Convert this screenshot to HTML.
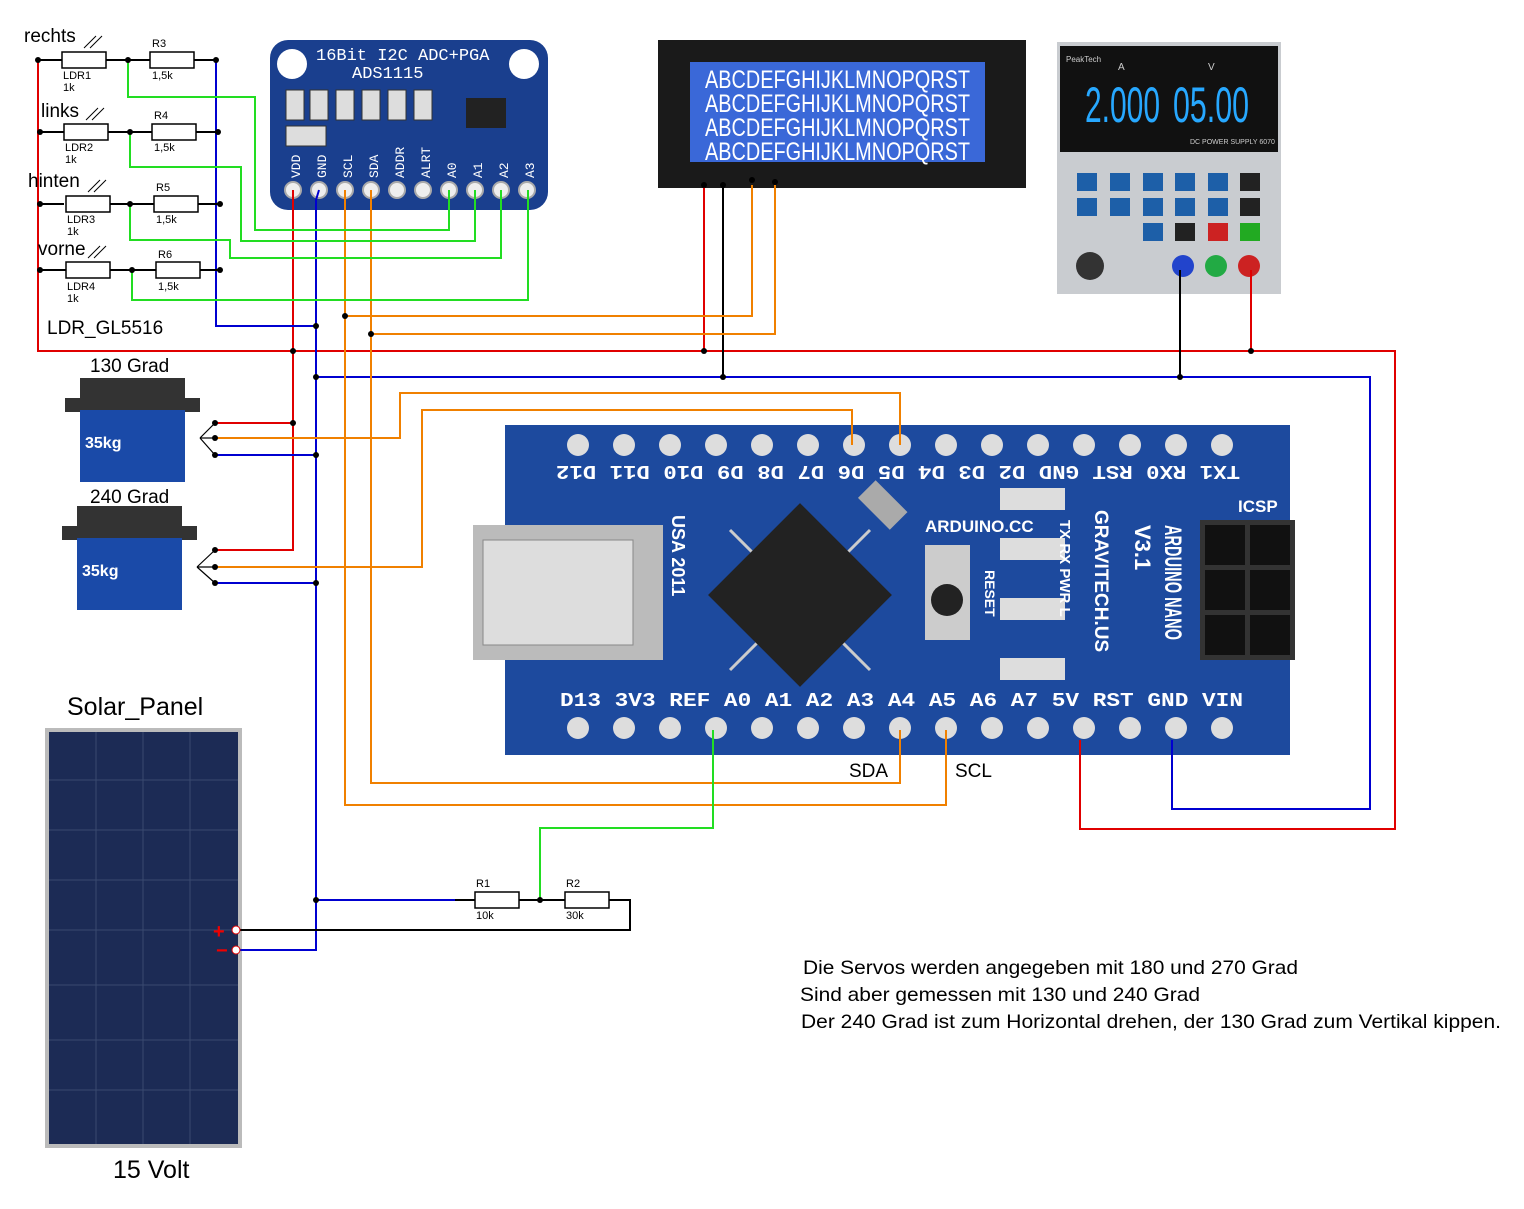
<!DOCTYPE html>
<html><head><meta charset="utf-8"><style>
html,body{margin:0;padding:0;background:#fff}
svg{display:block;font-family:"Liberation Sans",sans-serif}
.w{fill:none;stroke-width:2}
</style></head><body>
<svg width="1524" height="1209" viewBox="0 0 1524 1209" xmlns="http://www.w3.org/2000/svg">
<rect width="1524" height="1209" fill="#fff"/>

<!-- ADS1115 board -->
<rect x="270" y="40" width="278" height="170" rx="18" fill="#1a3f8e"/>
<circle cx="292" cy="64" r="15" fill="#fff"/><circle cx="524" cy="64" r="15" fill="#fff"/>
<text x="316" y="60" fill="#fff" font-size="17" font-family="Liberation Mono">16Bit I2C ADC+PGA</text>
<text x="352" y="78" fill="#fff" font-size="17" font-family="Liberation Mono">ADS1115</text>
<g fill="#ddd" stroke="#333"><rect x="286" y="90" width="18" height="30"/><rect x="310" y="90" width="18" height="30"/><rect x="336" y="90" width="18" height="30"/><rect x="362" y="90" width="18" height="30"/><rect x="388" y="90" width="18" height="30"/><rect x="414" y="90" width="18" height="30"/><rect x="286" y="126" width="40" height="20"/></g>
<rect x="466" y="98" width="40" height="30" fill="#222"/>
<g fill="#fff" font-size="13" font-family="Liberation Mono">
<text transform="translate(300,178) rotate(-90)">VDD</text><text transform="translate(326,178) rotate(-90)">GND</text><text transform="translate(352,178) rotate(-90)">SCL</text><text transform="translate(378,178) rotate(-90)">SDA</text><text transform="translate(404,178) rotate(-90)">ADDR</text><text transform="translate(430,178) rotate(-90)">ALRT</text><text transform="translate(456,178) rotate(-90)">A0</text><text transform="translate(482,178) rotate(-90)">A1</text><text transform="translate(508,178) rotate(-90)">A2</text><text transform="translate(534,178) rotate(-90)">A3</text></g>
<g fill="#eee" stroke="#aaa" stroke-width="2"><circle cx="293" cy="190" r="8"/><circle cx="319" cy="190" r="8"/><circle cx="345" cy="190" r="8"/><circle cx="371" cy="190" r="8"/><circle cx="397" cy="190" r="8"/><circle cx="423" cy="190" r="8"/><circle cx="449" cy="190" r="8"/><circle cx="475" cy="190" r="8"/><circle cx="501" cy="190" r="8"/><circle cx="527" cy="190" r="8"/></g>

<!-- LCD -->
<rect x="658" y="40" width="368" height="148" fill="#1a1a1a"/>
<rect x="690" y="62" width="295" height="100" fill="#3a68d8"/>
<g fill="#fff" font-size="25"><text x="705" y="88" textLength="265" lengthAdjust="spacingAndGlyphs">ABCDEFGHIJKLMNOPQRST</text><text x="705" y="112" textLength="265" lengthAdjust="spacingAndGlyphs">ABCDEFGHIJKLMNOPQRST</text><text x="705" y="136" textLength="265" lengthAdjust="spacingAndGlyphs">ABCDEFGHIJKLMNOPQRST</text><text x="705" y="160" textLength="265" lengthAdjust="spacingAndGlyphs">ABCDEFGHIJKLMNOPQRST</text></g>

<!-- Power supply -->
<rect x="1057" y="42" width="224" height="252" fill="#c9ccd0"/>
<rect x="1060" y="46" width="218" height="106" fill="#111"/>
<text x="1066" y="62" fill="#ccc" font-size="8">PeakTech</text>
<text x="1118" y="70" fill="#ccc" font-size="10">A</text><text x="1208" y="70" fill="#ccc" font-size="10">V</text>
<text x="1085" y="122" fill="#27a8ff" font-size="50" textLength="75" lengthAdjust="spacingAndGlyphs">2.000</text>
<text x="1173" y="122" fill="#27a8ff" font-size="50" textLength="76" lengthAdjust="spacingAndGlyphs">05.00</text>
<text x="1190" y="144" fill="#ccc" font-size="7">DC POWER SUPPLY 6070</text>
<g fill="#1d5fa8"><rect x="1077" y="173" width="20" height="18"/><rect x="1110" y="173" width="20" height="18"/><rect x="1143" y="173" width="20" height="18"/><rect x="1175" y="173" width="20" height="18"/><rect x="1208" y="173" width="20" height="18"/><rect x="1077" y="198" width="20" height="18"/><rect x="1110" y="198" width="20" height="18"/><rect x="1143" y="198" width="20" height="18"/><rect x="1175" y="198" width="20" height="18"/><rect x="1208" y="198" width="20" height="18"/><rect x="1143" y="223" width="20" height="18"/></g>
<rect x="1240" y="173" width="20" height="18" fill="#222"/><rect x="1240" y="198" width="20" height="18" fill="#222"/><rect x="1175" y="223" width="20" height="18" fill="#222"/><rect x="1208" y="223" width="20" height="18" fill="#c22"/><rect x="1240" y="223" width="20" height="18" fill="#2a2"/>
<circle cx="1090" cy="266" r="14" fill="#333"/>
<circle cx="1183" cy="266" r="11" fill="#2244cc"/><circle cx="1216" cy="266" r="11" fill="#22aa44"/><circle cx="1249" cy="266" r="11" fill="#cc2222"/>

<!-- Arduino -->
<rect x="505" y="425" width="785" height="330" fill="#1d4a9e"/>
<rect x="473" y="525" width="190" height="135" fill="#bbb"/>
<rect x="483" y="540" width="150" height="105" fill="#ddd" stroke="#888"/>
<g stroke="#ccc" stroke-width="3"><line x1="730" y1="530" x2="870" y2="670"/><line x1="870" y1="530" x2="730" y2="670"/></g>
<rect x="735" y="530" width="130" height="130" fill="#222" transform="rotate(45 800 595)"/>
<rect x="860" y="492" width="45" height="25" fill="#aaa" transform="rotate(45 882 505)"/>
<rect x="925" y="545" width="45" height="95" fill="#ccc"/><circle cx="947" cy="600" r="16" fill="#222"/>
<g fill="#ddd"><rect x="1000" y="488" width="65" height="22"/><rect x="1000" y="538" width="65" height="22"/><rect x="1000" y="598" width="65" height="22"/><rect x="1000" y="658" width="65" height="22"/></g>
<rect x="1200" y="520" width="95" height="140" fill="#333"/>
<g fill="#111"><rect x="1205" y="525" width="40" height="40"/><rect x="1250" y="525" width="40" height="40"/><rect x="1205" y="570" width="40" height="40"/><rect x="1250" y="570" width="40" height="40"/><rect x="1205" y="615" width="40" height="40"/><rect x="1250" y="615" width="40" height="40"/></g>
<g fill="#ddd"><circle cx="578" cy="445" r="11"/><circle cx="624" cy="445" r="11"/><circle cx="670" cy="445" r="11"/><circle cx="716" cy="445" r="11"/><circle cx="762" cy="445" r="11"/><circle cx="808" cy="445" r="11"/><circle cx="854" cy="445" r="11"/><circle cx="900" cy="445" r="11"/><circle cx="946" cy="445" r="11"/><circle cx="992" cy="445" r="11"/><circle cx="1038" cy="445" r="11"/><circle cx="1084" cy="445" r="11"/><circle cx="1130" cy="445" r="11"/><circle cx="1176" cy="445" r="11"/><circle cx="1222" cy="445" r="11"/>
<circle cx="578" cy="728" r="11"/><circle cx="624" cy="728" r="11"/><circle cx="670" cy="728" r="11"/><circle cx="716" cy="728" r="11"/><circle cx="762" cy="728" r="11"/><circle cx="808" cy="728" r="11"/><circle cx="854" cy="728" r="11"/><circle cx="900" cy="728" r="11"/><circle cx="946" cy="728" r="11"/><circle cx="992" cy="728" r="11"/><circle cx="1038" cy="728" r="11"/><circle cx="1084" cy="728" r="11"/><circle cx="1130" cy="728" r="11"/><circle cx="1176" cy="728" r="11"/><circle cx="1222" cy="728" r="11"/></g>
<text x="560" y="706" fill="#fff" font-size="19" font-weight="bold" font-family="Liberation Mono" textLength="683" lengthAdjust="spacingAndGlyphs">D13 3V3 REF A0  A1  A2  A3  A4  A5  A6  A7  5V  RST GND VIN</text>
<text transform="translate(1240,466) rotate(180)" fill="#fff" font-size="19" font-weight="bold" font-family="Liberation Mono" textLength="684" lengthAdjust="spacingAndGlyphs">TX1 RX0 RST GND D2  D3  D4  D5  D6  D7  D8  D9  D10 D11 D12</text>
<text x="925" y="532" fill="#fff" font-size="17" font-weight="bold">ARDUINO.CC</text>
<text transform="translate(1165,525) rotate(90)" fill="#fff" font-size="24" font-weight="bold" textLength="115" lengthAdjust="spacingAndGlyphs">ARDUINO NANO</text>
<text transform="translate(1135,525) rotate(90)" fill="#fff" font-size="22" font-weight="bold">V3.1</text>
<text transform="translate(1095,510) rotate(90)" fill="#fff" font-size="19" font-weight="bold">GRAVITECH.US</text>
<text transform="translate(1060,520) rotate(90)" fill="#fff" font-size="15" font-weight="bold">TX  RX  PWR  L</text>
<text transform="translate(985,570) rotate(90)" fill="#fff" font-size="14" font-weight="bold">RESET</text>
<text transform="translate(672,515) rotate(90)" fill="#fff" font-size="18" font-weight="bold">USA   2011</text>
<text x="1238" y="512" fill="#fff" font-size="17" font-weight="bold">ICSP</text>

<!-- servos -->
<g><rect x="65" y="398" width="135" height="14" fill="#333"/><rect x="80" y="378" width="105" height="22" fill="#333"/><rect x="80" y="410" width="105" height="72" fill="#1a4aa8"/><text x="85" y="448" fill="#fff" font-size="16" font-weight="bold">35kg</text></g>
<g><rect x="62" y="526" width="135" height="14" fill="#333"/><rect x="77" y="506" width="105" height="22" fill="#333"/><rect x="77" y="538" width="105" height="72" fill="#1a4aa8"/><text x="82" y="576" fill="#fff" font-size="16" font-weight="bold">35kg</text></g>

<!-- solar panel -->
<rect x="45" y="728" width="197" height="420" fill="#bbb"/>
<rect x="49" y="732" width="189" height="412" fill="#1c2b55"/>
<g stroke="#3a4a70" stroke-width="1"><line x1="96" y1="732" x2="96" y2="1144"/><line x1="143" y1="732" x2="143" y2="1144"/><line x1="190" y1="732" x2="190" y2="1144"/><line x1="49" y1="780" x2="238" y2="780"/><line x1="49" y1="830" x2="238" y2="830"/><line x1="49" y1="880" x2="238" y2="880"/><line x1="49" y1="930" x2="238" y2="930"/><line x1="49" y1="985" x2="238" y2="985"/><line x1="49" y1="1040" x2="238" y2="1040"/><line x1="49" y1="1090" x2="238" y2="1090"/></g>

<!-- wires -->
<g class="w" stroke="#e00000">
<polyline points="38,60 38,351 1395,351 1395,829 1080,829 1080,740"/>
<polyline points="293,190 293,550 215,550"/><line x1="215" y1="423" x2="293" y2="423"/>
<line x1="704" y1="185" x2="704" y2="351"/><line x1="1251" y1="270" x2="1251" y2="351"/>
</g>
<g class="w" stroke="#0000d0">
<polyline points="319,190 316,200 316,950 240,950"/>
<polyline points="316,377 1370,377 1370,809 1172,809 1172,740"/>
<polyline points="216,60 216,326 316,326"/>
<line x1="215" y1="455" x2="316" y2="455"/><line x1="215" y1="583" x2="316" y2="583"/>
<line x1="316" y1="900" x2="455" y2="900"/>
</g>
<g class="w" stroke="#000">
<polyline points="723,185 723,377"/><polyline points="1180,270 1180,377"/>
<polyline points="240,930 630,930 630,900 605,900"/>
<line x1="40" y1="60" x2="62" y2="60"/><line x1="40" y1="132" x2="64" y2="132"/><line x1="40" y1="204" x2="64" y2="204"/><line x1="40" y1="270" x2="66" y2="270"/>
<line x1="106" y1="60" x2="150" y2="60"/><line x1="194" y1="60" x2="216" y2="60"/>
<line x1="108" y1="132" x2="152" y2="132"/><line x1="196" y1="132" x2="218" y2="132"/>
<line x1="110" y1="204" x2="154" y2="204"/><line x1="198" y1="204" x2="220" y2="204"/>
<line x1="110" y1="270" x2="156" y2="270"/><line x1="198" y1="270" x2="220" y2="270"/>
<line x1="455" y1="900" x2="475" y2="900"/><line x1="519" y1="900" x2="565" y2="900"/>
</g>
<g class="w" stroke="#f08000">
<polyline points="345,190 345,805 946,805 946,730"/>
<polyline points="371,190 371,783 900,783 900,730"/>
<polyline points="345,316 752,316 752,185"/><polyline points="371,334 775,334 775,185"/>
<polyline points="215,438 400,438 400,393 900,393 900,445"/>
<polyline points="215,567 422,567 422,410 852,410 852,445"/>
</g>
<g class="w" stroke="#22dd22">
<polyline points="128,60 128,97 255,97 255,230 449,230 449,190"/>
<polyline points="130,132 130,167 241,167 241,241 475,241 475,190"/>
<polyline points="130,204 130,240 230,240 230,258 501,258 501,190"/>
<polyline points="132,270 132,300 528,300 528,190"/>
<polyline points="713,730 713,828 540,828 540,900"/>
</g>
<!-- resistors -->
<g fill="#fff" stroke="#000" stroke-width="1.5">
<rect x="62" y="52" width="44" height="16"/><rect x="150" y="52" width="44" height="16"/>
<rect x="64" y="124" width="44" height="16"/><rect x="152" y="124" width="44" height="16"/>
<rect x="66" y="196" width="44" height="16"/><rect x="154" y="196" width="44" height="16"/>
<rect x="66" y="262" width="44" height="16"/><rect x="156" y="262" width="44" height="16"/>
<rect x="475" y="892" width="44" height="16"/><rect x="565" y="892" width="44" height="16"/>
</g>
<g stroke="#000" stroke-width="1"><line x1="84" y1="48" x2="96" y2="36"/><line x1="90" y1="48" x2="102" y2="36"/><line x1="86" y1="120" x2="98" y2="108"/><line x1="92" y1="120" x2="104" y2="108"/><line x1="88" y1="192" x2="100" y2="180"/><line x1="94" y1="192" x2="106" y2="180"/><line x1="88" y1="258" x2="100" y2="246"/><line x1="94" y1="258" x2="106" y2="246"/></g>
<g fill="#000"><circle cx="38" cy="60" r="3"/><circle cx="128" cy="60" r="3"/><circle cx="216" cy="60" r="3"/><circle cx="40" cy="132" r="3"/><circle cx="130" cy="132" r="3"/><circle cx="218" cy="132" r="3"/><circle cx="40" cy="204" r="3"/><circle cx="130" cy="204" r="3"/><circle cx="220" cy="204" r="3"/><circle cx="40" cy="270" r="3"/><circle cx="132" cy="270" r="3"/><circle cx="220" cy="270" r="3"/>
<circle cx="316" cy="326" r="3"/><circle cx="345" cy="316" r="3"/><circle cx="371" cy="334" r="3"/><circle cx="293" cy="351" r="3"/><circle cx="704" cy="351" r="3"/><circle cx="1251" cy="351" r="3"/><circle cx="316" cy="377" r="3"/><circle cx="723" cy="377" r="3"/><circle cx="1180" cy="377" r="3"/>
<circle cx="293" cy="423" r="3"/><circle cx="316" cy="455" r="3"/><circle cx="215" cy="423" r="3"/><circle cx="215" cy="438" r="3"/><circle cx="215" cy="455" r="3"/><circle cx="215" cy="550" r="3"/><circle cx="215" cy="567" r="3"/><circle cx="215" cy="583" r="3"/><circle cx="316" cy="583" r="3"/>
<circle cx="316" cy="900" r="3"/><circle cx="540" cy="900" r="3"/><circle cx="704" cy="185" r="3"/><circle cx="723" cy="185" r="3"/><circle cx="752" cy="180" r="3"/><circle cx="775" cy="182" r="3"/></g>
<g stroke="#000" stroke-width="1.2"><line x1="200" y1="438" x2="215" y2="423"/><line x1="200" y1="438" x2="215" y2="438"/><line x1="200" y1="438" x2="215" y2="455"/><line x1="197" y1="567" x2="215" y2="550"/><line x1="197" y1="567" x2="215" y2="567"/><line x1="197" y1="567" x2="215" y2="583"/></g>
<circle cx="236" cy="930" r="4" fill="#fff" stroke="#d00"/><circle cx="236" cy="950" r="4" fill="#fff" stroke="#d00"/>
<text x="213" y="938" fill="#e00" font-size="20" font-weight="bold">+</text><text x="216" y="957" fill="#e00" font-size="20" font-weight="bold">−</text>

<!-- labels -->
<g font-size="19" fill="#000"><text x="24" y="42">rechts</text><text x="41" y="117">links</text><text x="28" y="187">hinten</text><text x="38" y="255">vorne</text><text x="47" y="334">LDR_GL5516</text><text x="90" y="372">130 Grad</text><text x="90" y="503">240 Grad</text><text x="849" y="777">SDA</text><text x="955" y="777">SCL</text></g>
<g font-size="11" fill="#000"><text x="63" y="79">LDR1</text><text x="63" y="91">1k</text><text x="152" y="47">R3</text><text x="152" y="79">1,5k</text>
<text x="65" y="151">LDR2</text><text x="65" y="163">1k</text><text x="154" y="119">R4</text><text x="154" y="151">1,5k</text>
<text x="67" y="223">LDR3</text><text x="67" y="235">1k</text><text x="156" y="191">R5</text><text x="156" y="223">1,5k</text>
<text x="67" y="290">LDR4</text><text x="67" y="302">1k</text><text x="158" y="258">R6</text><text x="158" y="290">1,5k</text>
<text x="476" y="887">R1</text><text x="476" y="919">10k</text><text x="566" y="887">R2</text><text x="566" y="919">30k</text></g>
<text x="67" y="715" font-size="25">Solar_Panel</text>
<text x="113" y="1178" font-size="25">15 Volt</text>
<g font-size="19.5"><text x="803" y="974" textLength="495" lengthAdjust="spacingAndGlyphs">Die Servos werden angegeben mit 180 und 270 Grad</text><text x="800" y="1001" textLength="400" lengthAdjust="spacingAndGlyphs">Sind aber gemessen mit 130 und 240 Grad</text><text x="801" y="1028" textLength="700" lengthAdjust="spacingAndGlyphs">Der 240 Grad ist zum Horizontal drehen, der 130 Grad zum Vertikal kippen.</text></g>
</svg>
</body></html>
